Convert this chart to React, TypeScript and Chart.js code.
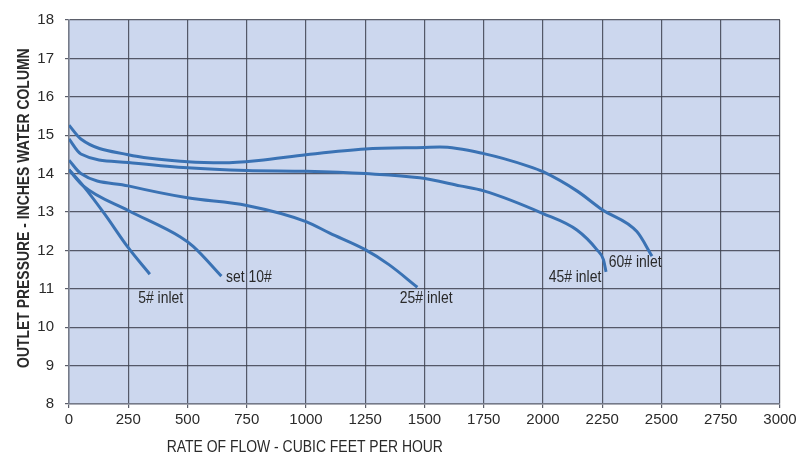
import React, { useEffect, useRef } from "react";
import { Chart, registerables } from "chart.js";

Chart.register(...registerables);

// Flow (cfh) / outlet pressure (in. w.c.) per curve
const flow60 = [0, 50, 250, 500, 650, 800, 1000, 1250, 1500, 1565, 1750, 1940, 2000, 2143, 2250, 2396, 2460];
const pres60 = [15.26, 14.9, 14.49, 14.31, 14.28, 14.34, 14.49, 14.64, 14.68, 14.69, 14.52, 14.19, 14.05, 13.55, 13.06, 12.49, 11.85];

const flow45 = [0, 50, 250, 500, 750, 1000, 1250, 1480, 1650, 1750, 2000, 2143, 2227, 2255, 2266];
const pres45 = [14.9, 14.51, 14.29, 14.15, 14.08, 14.06, 14.0, 13.89, 13.68, 13.55, 12.96, 12.53, 12.02, 11.76, 11.44];

const flow25 = [0, 50, 250, 500, 750, 1000, 1100, 1250, 1350, 1470];
const pres25 = [14.35, 14.0, 13.68, 13.37, 13.17, 12.75, 12.45, 12.02, 11.63, 11.04];

const flow10 = [0, 60, 250, 470, 525, 643];
const pres10 = [14.1, 13.68, 13.04, 12.35, 12.1, 11.33];

const flow5 = [0, 60, 150, 250, 341];
const pres5 = [14.1, 13.68, 12.95, 12.07, 11.38];

const curveNames = ["60# inlet", "45# inlet", "25# inlet", "set 10#", "5# inlet"];
// label anchor (data coords, text centre)
const labelFlow = [2389, 2135, 1507, 759, 387];
const labelPres = [11.68, 11.31, 10.75, 11.29, 10.75];

const yTicks = [8, 9, 10, 11, 12, 13, 14, 15, 16, 17, 18];
const xTicks = [0, 250, 500, 750, 1000, 1250, 1500, 1750, 2000, 2250, 2500, 2750, 3000];

const xTitle = "RATE OF FLOW - CUBIC FEET PER HOUR";
const yTitle = "OUTLET PRESSURE - INCHES WATER COLUMN";

const FONT = "'Liberation Sans', Arial, sans-serif";
const LINE = "#3a72b4";
const GRID = "rgba(62,66,80,0.85)";
const TEXT = "#2a2a2a";
const NARROW = 0.82;

function pts(xs: number[], ys: number[]) {
  return xs.map((x, i) => ({ x, y: ys[i] }));
}

export default function App() {
  const ref = useRef<HTMLCanvasElement | null>(null);
  useEffect(() => {
    document.body.style.margin = "0";
    const canvas = ref.current;
    if (!canvas) return;

    const bgPlugin = {
      id: "bgPlugin",
      beforeDraw(chart: any) {
        const { ctx, chartArea } = chart;
        ctx.save();
        ctx.fillStyle = "#ffffff";
        ctx.fillRect(0, 0, chart.width, chart.height);
        ctx.fillStyle = "#ccd7ee";
        ctx.fillRect(chartArea.left, chartArea.top, chartArea.right - chartArea.left, chartArea.bottom - chartArea.top);
        ctx.restore();
      },
    };

    const narrowText = (ctx: any, text: string, x: number, y: number, rot = 0) => {
      ctx.save();
      ctx.translate(x, y);
      if (rot) ctx.rotate(rot);
      ctx.scale(NARROW, 1);
      ctx.fillText(text, 0, 0);
      ctx.restore();
    };

    const textPlugin = {
      id: "textPlugin",
      afterDatasetsDraw(chart: any) {
        const { ctx, scales } = chart;
        const xs = scales.x;
        const ys = scales.y;
        ctx.save();
        ctx.fillStyle = TEXT;
        ctx.textAlign = "center";
        ctx.textBaseline = "middle";
        ctx.font = `17px ${FONT}`;
        curveNames.forEach((name, i) => {
          narrowText(ctx, name, xs.getPixelForValue(labelFlow[i]), ys.getPixelForValue(labelPres[i]));
        });
        // x title
        ctx.font = `17px ${FONT}`;
        narrowText(ctx, xTitle, xs.getPixelForValue(995), chart.height - 15);
        // y title
        ctx.font = `bold 17px ${FONT}`;
        narrowText(ctx, yTitle, 24, ys.getPixelForValue(13.1), -Math.PI / 2);
        ctx.restore();
      },
    };

    const mk = (xs: number[], ys: number[], label: string) => ({
      label,
      data: pts(xs, ys),
      borderColor: LINE,
      backgroundColor: LINE,
      borderWidth: 3,
      pointRadius: 0,
      cubicInterpolationMode: "monotone" as const,
      fill: false,
    });

    const chart = new Chart(canvas, {
      type: "line",
      data: {
        datasets: [
          mk(flow60, pres60, curveNames[0]),
          mk(flow45, pres45, curveNames[1]),
          mk(flow25, pres25, curveNames[2]),
          mk(flow10, pres10, curveNames[3]),
          mk(flow5, pres5, curveNames[4]),
        ],
      },
      options: {
        responsive: false,
        animation: false,
        layout: { padding: { top: 13, right: 23, left: 0, bottom: 0 } },
        plugins: { legend: { display: false }, tooltip: { enabled: false }, title: { display: false } },
        scales: {
          x: {
            type: "linear",
            min: 0,
            max: 3000,
            afterFit(scale: any) {
              scale.height = 58;
            },
            afterBuildTicks(scale: any) {
              scale.ticks = xTicks.map((v) => ({ value: v }));
            },
            ticks: {
              color: TEXT,
              font: { family: FONT, size: 15 },
              padding: 3,
              maxRotation: 0,
              autoSkip: false,
              callback: (v: any) => String(v),
            },
            grid: { color: GRID, lineWidth: 1.2, tickLength: 4 },
            border: { color: "rgba(120,125,140,0.9)", width: 1.5 },
          },
          y: {
            type: "linear",
            min: 8,
            max: 18,
            afterFit(scale: any) {
              scale.width = 69;
            },
            afterBuildTicks(scale: any) {
              scale.ticks = yTicks.map((v) => ({ value: v }));
            },
            ticks: {
              color: TEXT,
              font: { family: FONT, size: 15 },
              padding: 11,
              autoSkip: false,
              callback: (v: any) => String(v),
            },
            grid: { color: GRID, lineWidth: 1.2, tickLength: 4 },
            border: { color: "rgba(120,125,140,0.9)", width: 1.5 },
          },
        },
      },
      plugins: [bgPlugin, textPlugin],
    });
    return () => chart.destroy();
  }, []);
  return (
    <div style={{ position: "absolute", left: 0, top: 0, width: 803, height: 462 }}>
      <canvas ref={ref} width={803} height={462} />
    </div>
  );
}
